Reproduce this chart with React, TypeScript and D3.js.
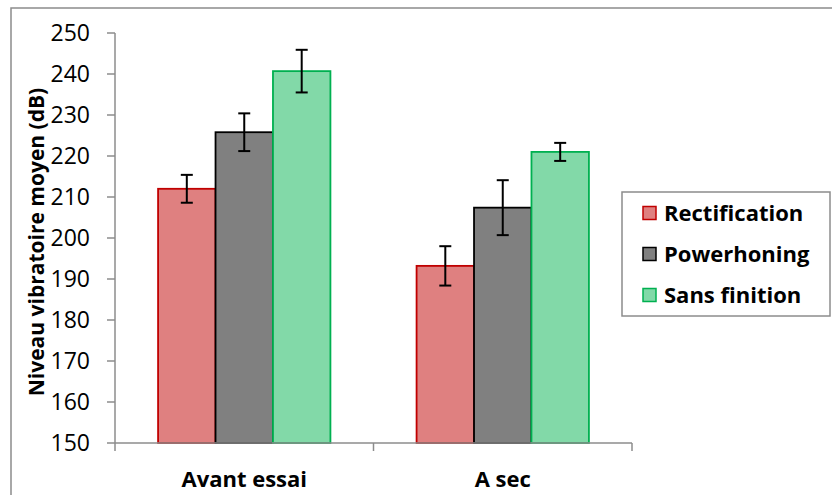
import React from "react";
import * as d3 from "d3";

const categories = ["Avant essai", "A sec"];
const seriesNames = ["Rectification", "Powerhoning", "Sans finition"];
const rectificationValues = [212.0, 193.2];
const rectificationErrors = [3.4, 4.8];
const powerhoningValues = [225.8, 207.4];
const powerhoningErrors = [4.6, 6.7];
const sansFinitionValues = [240.7, 221.0];
const sansFinitionErrors = [5.2, 2.2];
const yTicks = [150, 160, 170, 180, 190, 200, 210, 220, 230, 240, 250];

const fills = ["#DF8080", "#808080", "#82D9A8"];
const strokes = ["#C00000", "#000000", "#00B050"];

const W = 832;
const H = 495;
const FONT = "'Open Sans', Lato, sans-serif";

export default function App() {
  const seriesValues = [rectificationValues, powerhoningValues, sansFinitionValues];
  const seriesErrors = [rectificationErrors, powerhoningErrors, sansFinitionErrors];

  const x0 = d3.scaleBand<string>().domain(categories).range([115, 632]).paddingInner(0).paddingOuter(0);
  const x1 = d3.scaleBand<string>().domain(seriesNames).range([0, x0.bandwidth()]).paddingInner(0).paddingOuter(0.75);
  const y = d3.scaleLinear().domain([150, 250]).range([443, 33]);

  const axisColor = "#8C8C8C";
  const capHalf = 6;

  return (
    <svg width={W} height={H} style={{ position: "absolute", left: 0, top: 0, background: "#fff" }}>
      <rect x={0} y={0} width={W} height={H} fill="#fff" />
      {/* outer chart border */}
      <rect x={11} y={8} width={W + 10} height={H + 10} fill="none" stroke="#8C8C8C" strokeWidth={1.5} />

      {/* bars */}
      {seriesNames.map((s, si) =>
        categories.map((c, ci) => {
          const v = seriesValues[si][ci];
          const bx = (x0(c) as number) + (x1(s) as number);
          const by = y(v);
          return (
            <rect
              key={s + c}
              x={bx}
              y={by}
              width={x1.bandwidth()}
              height={y(150) - by}
              fill={fills[si]}
              stroke={strokes[si]}
              strokeWidth={1.8}
            />
          );
        })
      )}

      {/* y axis */}
      <line x1={115} x2={115} y1={y(250)} y2={y(150)} stroke={axisColor} strokeWidth={1.5} />
      {yTicks.map((t) => (
        <g key={t}>
          <line x1={107} x2={115} y1={y(t)} y2={y(t)} stroke={axisColor} strokeWidth={1.5} />
          <text x={90} y={y(t)} dy="0.36em" textAnchor="end" fontFamily={FONT} fontSize={23} fill="#000">
            {t}
          </text>
        </g>
      ))}

      {/* x axis */}
      <line x1={x0.range()[0]} x2={x0.range()[1]} y1={y(150)} y2={y(150)} stroke={axisColor} strokeWidth={1.5} />
      {[0, 1, 2].map((i) => {
        const xx = x0.range()[0] + i * x0.step();
        return <line key={i} x1={xx} x2={xx} y1={y(150)} y2={y(150) + 8} stroke={axisColor} strokeWidth={1.5} />;
      })}
      {categories.map((c) => (
        <text
          key={c}
          x={(x0(c) as number) + x0.bandwidth() / 2}
          y={487}
          textAnchor="middle"
          fontFamily={FONT}
          fontWeight="bold"
          fontSize={22}
          fill="#000"
        >
          {c}
        </text>
      ))}

      {/* error bars */}
      {seriesNames.map((s, si) =>
        categories.map((c, ci) => {
          const v = seriesValues[si][ci];
          const e = seriesErrors[si][ci];
          const cx = (x0(c) as number) + (x1(s) as number) + x1.bandwidth() / 2;
          return (
            <g key={"e" + s + c} stroke="#000" strokeWidth={2}>
              <line x1={cx} x2={cx} y1={y(v + e)} y2={y(v - e)} />
              <line x1={cx - capHalf} x2={cx + capHalf} y1={y(v + e)} y2={y(v + e)} />
              <line x1={cx - capHalf} x2={cx + capHalf} y1={y(v - e)} y2={y(v - e)} />
            </g>
          );
        })
      )}

      {/* y axis title */}
      <text
        transform={`translate(44, ${242}) rotate(-90)`}
        textAnchor="middle"
        fontFamily={FONT}
        fontWeight="bold"
        fontSize={21}
        fill="#000"
      >
        Niveau vibratoire moyen (dB)
      </text>

      {/* legend */}
      <rect x={622} y={192} width={208} height={124} fill="#fff" stroke="#8C8C8C" strokeWidth={1.5} />
      {seriesNames.map((s, i) => {
        const cy = 213 + i * 41;
        return (
          <g key={"l" + s}>
            <rect x={643} y={cy - 6.5} width={13} height={13} fill={fills[i]} stroke={strokes[i]} strokeWidth={1.5} />
            <text x={664} y={cy} dy="0.36em" fontFamily={FONT} fontWeight="bold" fontSize={22} fill="#000">
              {s}
            </text>
          </g>
        );
      })}
    </svg>
  );
}
